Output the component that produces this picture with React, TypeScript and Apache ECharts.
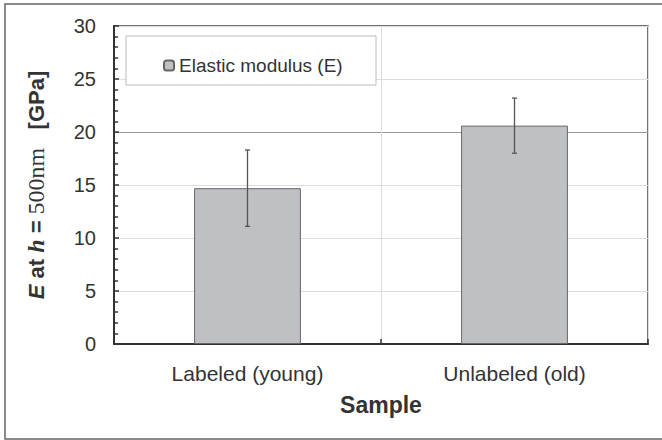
import React, { useEffect, useRef } from "react";
import * as echarts from "echarts";

const categories = ["Labeled (young)", "Unlabeled (old)"];
const modulusValues = [14.7, 20.6];
const errorLow = [11.1, 18.0];
const errorHigh = [18.3, 23.2];
const seriesName = "Elastic modulus (E)";
const yMin = 0;
const yMax = 30;
const yInterval = 5;

const SANS = "'Liberation Sans', Arial, sans-serif";
const SERIF = "'Liberation Serif', 'Times New Roman', serif";

export default function App() {
  const ref = useRef<HTMLDivElement>(null);
  useEffect(() => {
    document.body.style.margin = "0";
    const chart = echarts.init(ref.current!, null, { renderer: "svg" });
    const errData = categories.map((_, i) => [i, errorLow[i], errorHigh[i]]);
    chart.setOption({
      animation: false,
      backgroundColor: "#fff",
      grid: {
        left: 114,
        top: 26,
        right: 14,
        bottom: 96,
        show: true,
        borderColor: "#444",
        borderWidth: 1.5,
        backgroundColor: "transparent",
      },
      graphic: [
        {
          type: "rect",
          shape: { x: 5, y: 4, width: 670, height: 435 },
          style: { fill: "none", stroke: "#666", lineWidth: 1.5 },
          z: 1,
        },
        {
          type: "rect",
          shape: { x: 126, y: 36, width: 250, height: 49 },
          style: { fill: "#fff", stroke: "#bbb", lineWidth: 1 },
          z: 3,
        },
      ],
      legend: {
        left: 158,
        top: 51,
        data: [seriesName],
        itemWidth: 10,
        itemHeight: 10,
        itemGap: 5,
        textStyle: { fontFamily: SANS, fontSize: 19, color: "#333" },
        z: 5,
      },
      xAxis: [
        {
          type: "category",
          data: categories,
          boundaryGap: true,
          axisLine: { show: true, lineStyle: { color: "#333", width: 2 } },
          axisTick: { show: true, inside: true, alignWithLabel: true, length: 5, lineStyle: { color: "#333", width: 1.5 } },
          axisLabel: { fontFamily: SANS, fontSize: 21, color: "#333", margin: 19 },
          splitLine: { show: true, lineStyle: { color: "#ddd", width: 1 } },
          name: "Sample",
          nameLocation: "middle",
          nameGap: 49,
          nameTextStyle: { fontFamily: SANS, fontSize: 23, fontWeight: "bold", color: "#333" },
        },
        {
          type: "category",
          data: categories,
          position: "bottom",
          boundaryGap: true,
          axisLine: { show: false },
          axisTick: { show: true, inside: true, length: 5, lineStyle: { color: "#333", width: 1.5 } },
          axisLabel: { show: false },
          splitLine: { show: false },
        },
      ],
      yAxis: {
        type: "value",
        min: yMin,
        max: yMax,
        interval: yInterval,
        axisLine: { show: true, lineStyle: { color: "#333", width: 2 } },
        axisTick: { show: true, inside: true, length: 5, lineStyle: { color: "#333", width: 1.5 } },
        minorTick: { show: true, splitNumber: 5, length: 4, lineStyle: { color: "#333", width: 1.5 } },
        axisLabel: { fontFamily: SANS, fontSize: 20, color: "#333", margin: 18 },
        splitLine: {
          show: true,
          lineStyle: { color: ["#ddd", "#ddd", "#ddd", "#ddd", "#999", "#ddd", "#ddd"], width: 1 },
        },
        name: "{e|E}{b| at }{h|h}{b| = }{n|500nm}{b|   [GPa]}",
        nameLocation: "middle",
        nameRotate: 90,
        nameGap: 66,
        nameTextStyle: {
          color: "#333",
          rich: {
            e: { fontFamily: SANS, fontSize: 22, fontWeight: "bold", fontStyle: "italic", color: "#333" },
            b: { fontFamily: SANS, fontSize: 22, fontWeight: "bold", color: "#333" },
            h: { fontFamily: SERIF, fontSize: 24, fontWeight: "bold", fontStyle: "italic", color: "#333" },
            n: { fontFamily: SERIF, fontSize: 24, color: "#333" },
          },
        },
      },
      series: [
        {
          name: seriesName,
          type: "bar",
          data: modulusValues,
          barWidth: "40%",
          itemStyle: { color: "#bfc0c4", borderColor: "#666", borderWidth: 1 },
          z: 2,
        },
        {
          name: "error",
          type: "custom",
          data: errData,
          z: 6,
          renderItem: (params: any, api: any) => {
            const x = api.value(0);
            const lo = api.coord([x, api.value(1)]);
            const hi = api.coord([x, api.value(2)]);
            const cap = 2.5;
            const style = { stroke: "#555", lineWidth: 1.3 };
            return {
              type: "group",
              children: [
                { type: "line", shape: { x1: lo[0], y1: lo[1], x2: hi[0], y2: hi[1] }, style },
                { type: "line", shape: { x1: lo[0] - cap, y1: lo[1], x2: lo[0] + cap, y2: lo[1] }, style },
                { type: "line", shape: { x1: hi[0] - cap, y1: hi[1], x2: hi[0] + cap, y2: hi[1] }, style },
              ],
            };
          },
        },
      ],
    });
    return () => chart.dispose();
  }, []);
  return <div ref={ref} style={{ width: 662, height: 440 }} />;
}
